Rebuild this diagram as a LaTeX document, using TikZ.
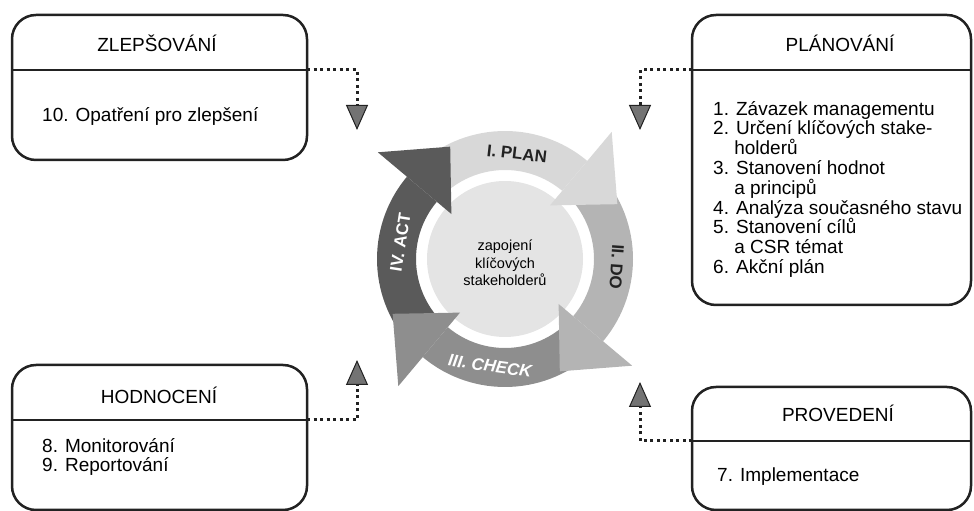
\documentclass[tikz,border=0pt]{standalone}
\usepackage{fontspec}
\setmainfont{Liberation Sans}
\usetikzlibrary{arrows.meta}
\definecolor{planc}{HTML}{D8D8D8}
\definecolor{doc}{HTML}{B4B4B4}
\definecolor{checkc}{HTML}{8E8E8E}
\definecolor{actc}{HTML}{5A5A5A}
\definecolor{hubc}{HTML}{E4E4E4}
\definecolor{ink}{HTML}{222222}
\begin{document}
\begin{tikzpicture}[x=1pt,y=1pt,
  box/.style={draw=ink, line width=2.5pt, rounded corners=24pt},
  title/.style={font=\fontsize{19}{20}\selectfont, anchor=base},
  item/.style={font=\fontsize{19}{19.8}\selectfont, align=left, inner sep=0pt},
  link/.style={draw=ink, line width=3pt, dash pattern=on 3pt off 3.5pt,
    -{Triangle[width=22pt,length=25pt,fill=black!55,line width=1pt]}},
  cyc/.style={font=\bfseries\fontsize{17}{17}\selectfont}]
  \useasboundingbox (0,0) rectangle (974,511);

  \node[box, minimum width=295, minimum height=145] (zl) at (159.5,423.5) {};
  \node[box, minimum width=279, minimum height=290] (pl) at (831.5,351) {};
  \node[box, minimum width=295, minimum height=145] (ho) at (159.5,73.5) {};
  \node[box, minimum width=279, minimum height=123] (pr) at (831.5,62.5) {};

  \draw[ink, line width=2.5pt] (12,441) -- (307,441) coordinate (zlport);
  \draw[ink, line width=2.5pt] (971,441) -- (692,441) coordinate (plport);
  \draw[ink, line width=2.5pt] (12,91) -- (307,91) coordinate (hoport);
  \draw[ink, line width=2.5pt] (971,70) -- (692,70) coordinate (prport);

  \node[title] (zlt) at (157,459) {ZLEPŠOVÁNÍ};
  \node[title] (plt) at (840,459) {PLÁNOVÁNÍ};
  \node[title] (hot) at (159,107) {HODNOCENÍ};
  \node[title] (prt) at (838,89) {PROVEDENÍ};

  \node[item, anchor=base west] (zli) at (42,389) {10. Opatření pro zlepšení};
  \node[item, anchor=north west] (pli) at (713,410) {1. Závazek managementu\\
    2. Určení klíčových stake-\\
    \phantom{2.}\ holderů\\
    3. Stanovení hodnot\\
    \phantom{3.}\ a principů\\
    4. Analýza současného stavu\\
    5. Stanovení cílů\\
    \phantom{5.}\ a CSR témat\\
    6. Akční plán};
  \node[item, anchor=north west] (hoi) at (42,73) {8. Monitorování\\9. Reportování};
  \node[item, anchor=base west] (pri) at (717,29) {7. Implementace};

  \coordinate (zlin) at (357,381);
  \coordinate (plin) at (640,381);
  \coordinate (hoin) at (357,151);
  \coordinate (prin) at (640,129);
  \draw[link] (zlport) -| (zlin);
  \draw[link] (plport) -| (plin);
  \draw[link] (hoport) -| (hoin);
  \draw[link] (prport) -| (prin);

  \begin{scope}[shift={(505,252)}]
    \fill[hubc] (0,0) circle (78);
    \fill[planc] (135:128) arc[start angle=135, end angle=50, radius=128]
      -- (50:89) arc[start angle=50, end angle=135, radius=89] -- cycle;
    \fill[doc] (45:128) arc[start angle=45, end angle=-40, radius=128]
      -- (-40:89) arc[start angle=-40, end angle=45, radius=89] -- cycle;
    \fill[checkc] (-45:128) arc[start angle=-45, end angle=-130, radius=128]
      -- (-130:89) arc[start angle=-130, end angle=-45, radius=89] -- cycle;
    \fill[actc] (225:128) arc[start angle=225, end angle=140, radius=128]
      -- (140:89) arc[start angle=140, end angle=225, radius=89] -- cycle;
    \fill[planc] (50:166) -- (26:125) -- (50:70) -- cycle;
    \fill[doc] (-40:166) -- (-64:125) -- (-40:70) -- cycle;
    \fill[checkc] (-130:166) -- (-154:125) -- (-130:70) -- cycle;
    \fill[actc] (140:166) -- (116:125) -- (140:70) -- cycle;

    \node[cyc, text=ink, rotate=-6.5] (plan) at (83.5:106) {I. PLAN};
    \node[cyc, text=ink, rotate=-94] (do) at (-4:112) {II. DO};
    \node[cyc, text=white, rotate=-8] (check) at (-98:108) {\itshape III. CHECK};
    \node[cyc, text=white, rotate=81] (act) at (171:106) {IV. ACT};
    \node[align=center, font=\fontsize{14.5}{17.5}\selectfont] (hub) at (0,-4)
      {zapojení\\klíčových\\stakeholderů};
  \end{scope}
\end{tikzpicture}
\end{document}
